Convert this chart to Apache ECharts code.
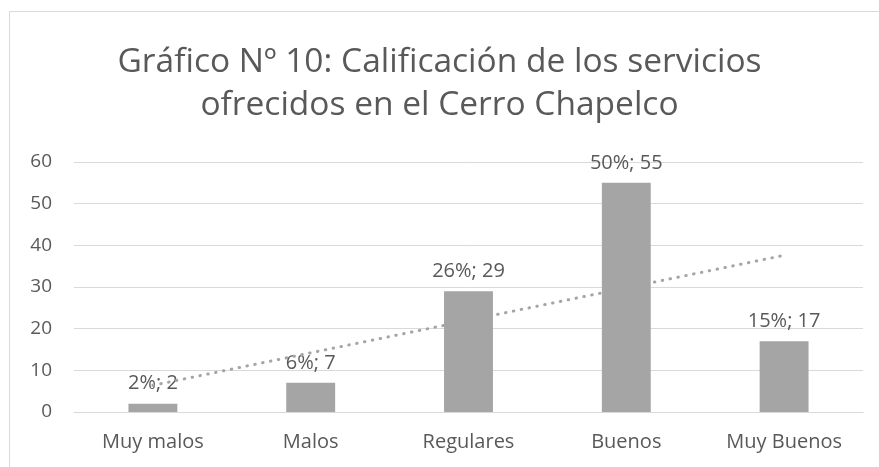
<!DOCTYPE html>
<html>
  <head>
    <meta charset="utf-8" />
    <title>Gráfico Nº 10</title>
    <script src="https://cdn.jsdelivr.net/npm/echarts@6/dist/echarts.min.js"></script>
    <style>
      body { margin: 0; background: #fff; }
    </style>
  </head>
  <body>
    <div id="main" style="width: 879px;height:467px;"></div>
    <script type="text/javascript">
      // datos
      var categorias = ['Muy malos', 'Malos', 'Regulares', 'Buenos', 'Muy Buenos'];
      var valores = [2, 7, 29, 55, 17];
      var porcentajes = ['2%', '6%', '26%', '50%', '15%'];
      // línea de tendencia (lineal)
      var tendencia = [6.4, 14.2, 22, 29.8, 37.6];
      var ticksY = [0, 10, 20, 30, 40, 50, 60];

      var fuente = 'Open Sans';
      var gris = '#595959';

      var myChart = echarts.init(document.getElementById('main'));

      var option = {
        animation: false,
        textStyle: { fontFamily: fuente },
        graphic: [
          {
            type: 'rect',
            shape: { x: 9.5, y: 11.5, width: 900, height: 480 },
            style: { fill: 'none', stroke: '#d9d9d9', lineWidth: 1 },
            silent: true
          }
        ],
        title: {
          text: 'Gráfico Nº 10: Calificación de los servicios\nofrecidos en el Cerro Chapelco',
          left: 'center',
          top: 36,
          textStyle: {
            fontFamily: fuente,
            fontWeight: 'normal',
            fontSize: 33.5,
            lineHeight: 43,
            color: gris
          }
        },
        grid: { left: 74, right: 16, top: 162, bottom: 55 },
        xAxis: {
          type: 'category',
          data: categorias,
          axisLine: { lineStyle: { color: '#d9d9d9', width: 1 } },
          axisTick: { show: false },
          axisLabel: { color: gris, fontSize: 20, margin: 20 }
        },
        yAxis: {
          type: 'value',
          min: ticksY[0],
          max: ticksY[ticksY.length - 1],
          interval: 10,
          axisLine: { show: false },
          axisTick: { show: false },
          splitLine: { lineStyle: { color: '#d9d9d9', width: 1 } },
          axisLabel: { color: gris, fontSize: 19, margin: 22 }
        },
        series: [
          {
            type: 'bar',
            data: valores,
            barWidth: '31%',
            itemStyle: { color: '#a5a5a5' },
            label: {
              show: true,
              position: 'top',
              distance: 10,
              color: gris,
              fontSize: 20,
              formatter: function (p) {
                return porcentajes[p.dataIndex] + '; ' + p.value;
              }
            },
            z: 2
          },
          {
            type: 'line',
            data: tendencia,
            symbol: 'none',
            lineStyle: { color: '#a5a5a5', width: 3, type: [0.5, 7.5], cap: 'round' },
            z: 3
          }
        ]
      };

      myChart.setOption(option);
    </script>
  </body>
</html>
